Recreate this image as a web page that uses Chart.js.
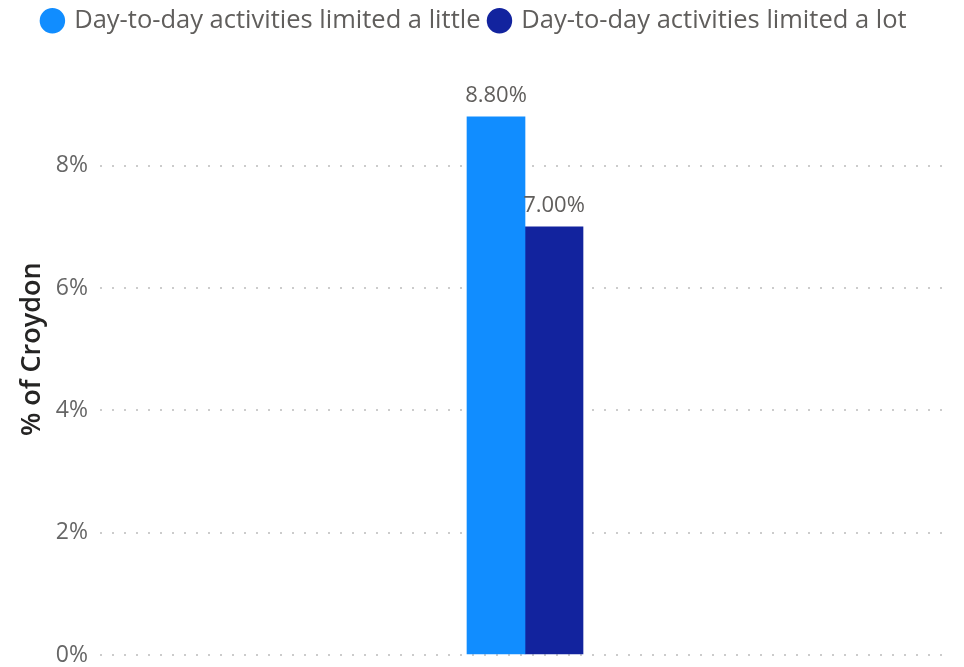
<!DOCTYPE html>
<html>
<head>
<meta charset="utf-8">
<script src="https://cdn.jsdelivr.net/npm/chart.js@4/dist/chart.umd.min.js"></script>
<style>
  html, body { margin: 0; padding: 0; background: #fff; }
  #wrap { width: 964px; height: 667px; position: relative; }
</style>
</head>
<body>
<div id="wrap"><canvas id="c"></canvas></div>
<script>
// Share of Croydon residents whose day-to-day activities are limited
const categories = ['Croydon'];
const seriesNames = ['Day-to-day activities limited a little', 'Day-to-day activities limited a lot'];
const limitedLittle = [8.8];
const limitedLot = [7.0];
const tickValues = [0, 2, 4, 6, 8];
const seriesColors = ['#118DFF', '#12239E'];

const FONT = '"Open Sans", "Noto Sans", sans-serif';

// Writes each bar's value above it
const valueLabels = {
  id: 'valueLabels',
  afterDatasetsDraw(chart) {
    const ctx = chart.ctx;
    ctx.save();
    ctx.font = '22px ' + FONT;
    ctx.fillStyle = '#605E5C';
    ctx.textAlign = 'center';
    ctx.textBaseline = 'bottom';
    chart.data.datasets.forEach((ds, i) => {
      chart.getDatasetMeta(i).data.forEach((bar, j) => {
        ctx.fillText(ds.data[j].toFixed(2) + '%', bar.x, bar.y - 10);
      });
    });
    ctx.restore();
  }
};

new Chart(document.getElementById('c'), {
  type: 'bar',
  data: {
    labels: categories,
    datasets: [
      { label: seriesNames[0], data: limitedLittle, backgroundColor: seriesColors[0] },
      { label: seriesNames[1], data: limitedLot, backgroundColor: seriesColors[1] }
    ]
  },
  options: {
    responsive: true,
    maintainAspectRatio: false,
    animation: false,
    layout: { padding: { left: 0, right: 14, top: -2, bottom: 12 } },
    plugins: {
      legend: {
        position: 'top',
        labels: {
          usePointStyle: true,
          pointStyle: 'circle',
          boxWidth: 18,
          boxHeight: 18,
          padding: 10,
          color: '#605E5C',
          font: { family: FONT, size: 25.5 }
        }
      },
      tooltip: { enabled: false }
    },
    scales: {
      x: {
        display: false,
        grid: { display: false }
      },
      y: {
        min: 0,
        max: 10,
        afterBuildTicks(scale) {
          scale.ticks = tickValues.map(v => ({ value: v }));
        },
        afterFit(scale) {
          scale.width = 100;
          scale.paddingTop = 0;
          scale.paddingBottom = 0;
        },
        ticks: {
          padding: 12,
          color: '#666666',
          font: { family: FONT, size: 23 },
          callback: v => v + '%'
        },
        grid: {
          color: '#CCCCCC',
          lineWidth: 2,
          drawTicks: false
        },
        border: { display: false, dash: [2, 10] },
        title: {
          display: true,
          text: '% of Croydon',
          color: '#252423',
          padding: { top: 16, bottom: 0 },
          font: { family: FONT, size: 27, weight: '600' }
        }
      }
    },
    datasets: {
      bar: { barThickness: 58, categoryPercentage: 1, barPercentage: 1 }
    }
  },
  plugins: [valueLabels]
});
</script>
</body>
</html>
